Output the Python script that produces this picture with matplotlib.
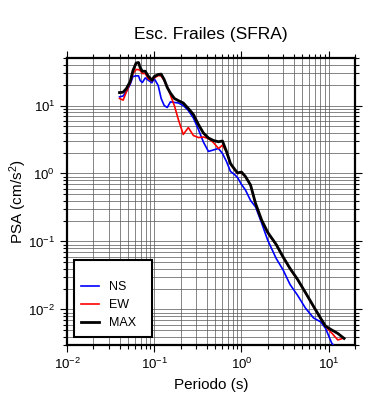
import numpy as np
import matplotlib
matplotlib.use("Agg")
import matplotlib.pyplot as plt

plt.rcParams['font.family'] = ['Liberation Sans', 'DejaVu Sans']
plt.rcParams['mathtext.fontset'] = 'custom'
plt.rcParams['mathtext.rm'] = 'Liberation Sans'
plt.rcParams['mathtext.it'] = 'Liberation Sans:italic'

periods = [0.040, 0.044, 0.048, 0.053, 0.057, 0.062, 0.066, 0.069, 0.073, 0.079,
           0.085, 0.094, 0.10, 0.111, 0.120, 0.130, 0.141, 0.153, 0.170, 0.189,
           0.215, 0.246, 0.281, 0.321, 0.366, 0.418, 0.476, 0.545, 0.605, 0.673,
           0.748, 0.832, 0.90, 1.0, 1.11, 1.27, 1.45, 1.70, 2.0, 2.5,
           3.0, 3.6, 4.4, 5.4, 6.7, 8.1, 9.2, 10.8, 12.7, 15.0]

psa_ns = [13.4, 13.8, 16.1, 20.4, 26.7, 27.3, 27.3, 23.3, 21.8, 25.5,
          23.7, 21.6, 24.9, 19.7, 12.7, 10.0, 9.35, 11.3, 11.1, 10.9,
          10.0, 8.44, 6.55, 4.44, 2.90, 2.11, 2.22, 2.33, 1.97, 1.50,
          1.07, 0.966, 0.873, 0.689, 0.572, 0.401, 0.322, 0.187, 0.104, 0.0562,
          0.0381, 0.0233, 0.0161, 0.0105, 0.00750, 0.00655, 0.00526, 0.00321, 0.00250, 0.00211]

psa_ew = [12.7, 12.0, 15.9, 21.8, 29.6, 33.8, 33.8, 32.7, 29.6, 29.6,
          24.9, 23.1, 25.4, 27.6, 27.2, 23.3, 19.0, 14.3, 10.0, 6.22,
          3.75, 4.74, 3.62, 3.38, 3.44, 3.27, 2.86, 2.33, 2.61, 2.08,
          1.38, 1.14, 1.00, 1.03, 0.889, 0.667, 0.350, 0.204, 0.133, 0.0889,
          0.0582, 0.0394, 0.0272, 0.0175, 0.0109, 0.00725, 0.00562, 0.00451, 0.00356, 0.00381]

psa_max = [15.5, 15.7, 17.8, 22.5, 32.7, 42.2, 42.9, 36.2, 31.9, 31.9,
           27.2, 23.6, 26.7, 28.6, 29.0, 24.1, 18.4, 15.3, 12.7, 11.8,
           10.9, 9.03, 7.38, 5.26, 3.94, 3.33, 3.06, 2.93, 3.01, 2.11,
           1.40, 1.16, 1.02, 1.05, 0.903, 0.678, 0.362, 0.207, 0.136, 0.0903,
           0.0592, 0.0401, 0.0276, 0.0178, 0.0111, 0.00738, 0.00568, 0.00500, 0.00444, 0.00375]

series_labels = ["NS", "EW", "MAX"]

fig = plt.figure(figsize=(3.9, 4.0), dpi=100)
ax = fig.add_axes([67/390, 55/400, 288/390, 287/400])

ax.plot(periods, psa_ns, color='#0000ff', lw=1.2, label=series_labels[0], zorder=3)
ax.plot(periods, psa_ew, color='#ff0000', lw=1.2, label=series_labels[1], zorder=3)
ax.plot(periods, psa_max, color='black', lw=2.0, label=series_labels[2], zorder=4)

ax.set_xscale('log')
ax.set_yscale('log')
ax.set_xlim(1e-2, 20)
ax.set_ylim(3e-3, 50)

ax.grid(True, which='both', color='#555555', lw=0.5)
ax.set_axisbelow(True)
ax.tick_params(which='both', direction='out', top=True, right=True, labelsize=9.5,
               width=0.8, color='black')
ax.tick_params(which='major', length=5)
ax.tick_params(which='minor', length=3)
for s in ax.spines.values():
    s.set_linewidth(1.6)

ax.set_xlabel("Periodo (s)", fontsize=11, labelpad=4)
ax.set_ylabel("PSA (cm/s$^2$)", fontsize=11)
ax.yaxis.set_label_coords(-0.132, 0.5)
ax.set_title("Esc. Frailes (SFRA)", fontsize=12.5, pad=14)

leg = ax.legend(loc='lower left', bbox_to_anchor=(0.024, 0.028, 0.271, 0.25),
                mode='expand', borderaxespad=0,
                fontsize=9, frameon=True, fancybox=False, handlelength=1.4,
                labelspacing=0.5, borderpad=0.6, handletextpad=0.8, framealpha=1,
                title=' ', title_fontsize=6)
leg.get_frame().set_edgecolor('black')
leg.get_frame().set_linewidth(1.5)
leg.set_zorder(10)

fig.savefig("out.png", dpi=100)
